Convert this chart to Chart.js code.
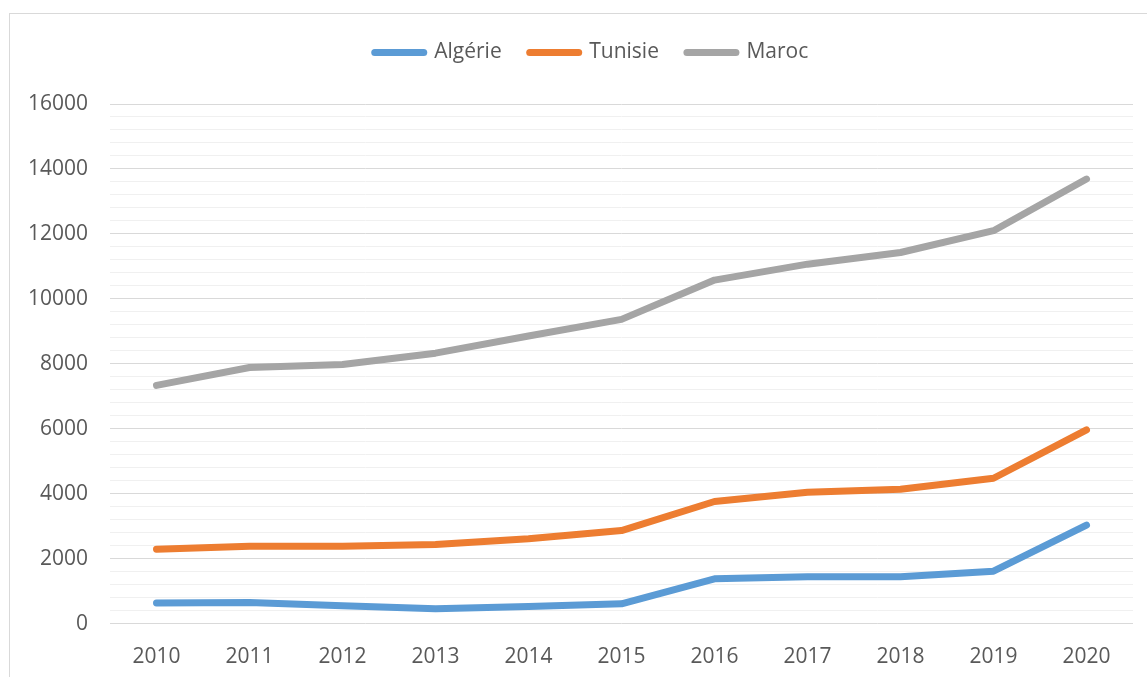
<!DOCTYPE html>
<html>
<head>
<meta charset="utf-8">
<script src="https://cdn.jsdelivr.net/npm/chart.js@4"></script>
<style>
    body { margin: 0; background: #fff; overflow: hidden; }
    #frame { position: absolute; left: 9px; top: 13px; width: 1200px; height: 700px; border: 1px solid #d9d9d9; }
    #wrap { position: absolute; left: 0; top: 0; width: 1147px; height: 677px; }
</style>
</head>
<body>
<div id="frame"></div>
<div id="wrap"><canvas id="chart"></canvas></div>
<script>
const years = ['2010', '2011', '2012', '2013', '2014', '2015', '2016', '2017', '2018', '2019', '2020'];
const algerie = [640, 655, 555, 465, 530, 615, 1385, 1450, 1450, 1620, 3040];
const tunisie = [2295, 2390, 2390, 2440, 2615, 2870, 3765, 4050, 4140, 4480, 5970];
const maroc = [7340, 7890, 7980, 8330, 8860, 9370, 10580, 11070, 11430, 12100, 13690];

const txt = '#595959';
const fnt = "'Open Sans', sans-serif";

// push the plot down below the legend, and nudge the legend like the excel layout
const legendGap = {
    id: 'legendGap',
    beforeInit(chart) {
        const fit = chart.legend.fit;
        chart.legend.fit = function () {
            fit.call(this);
            this.height += 34;
        };
    },
    afterLayout(chart) {
        const lg = chart.legend;
        lg.left += 25; lg.right += 25;
        lg.top += 3; lg.bottom += 3;
    }
};

function line(label, data, color) {
    return {
        label: label, data: data,
        borderColor: color, backgroundColor: color,
        borderWidth: 7, borderCapStyle: 'round', borderJoinStyle: 'round',
        pointRadius: 0, pointStyle: 'line', tension: 0, fill: false
    };
}

new Chart(document.getElementById('chart').getContext('2d'), {
    type: 'line',
    data: {
        labels: years,
        datasets: [
            line('Algérie', algerie, '#5b9bd5'),
            line('Tunisie', tunisie, '#ed7d31'),
            line('Maroc', maroc, '#a5a5a5')
        ]
    },
    plugins: [legendGap],
    options: {
        responsive: true,
        maintainAspectRatio: false,
        animation: false,
        layout: { padding: { left: 0, right: 14, top: 11, bottom: 7 } },
        plugins: {
            legend: {
                position: 'top',
                labels: {
                    usePointStyle: true, pointStyleWidth: 49, padding: 28,
                    color: txt, font: { family: fnt, size: 21 },
                    generateLabels: function (chart) {
                        return Chart.defaults.plugins.legend.labels.generateLabels(chart).map(function (l) {
                            l.lineCap = 'round';
                            return l;
                        });
                    }
                }
            },
            tooltip: { enabled: false }
        },
        scales: {
            x: {
                offset: true,
                grid: { display: false, tickLength: 21 },
                border: { display: false },
                ticks: { color: txt, font: { family: fnt, size: 21 }, padding: 0, maxRotation: 0 }
            },
            y: {
                min: 0, max: 16000,
                afterFit: function (s) { s.width = 110; },
                border: { display: false },
                grid: {
                    drawTicks: false,
                    color: function (c) { return c.tick.value % 2000 === 0 ? '#d9d9d9' : '#f0f0f0'; }
                },
                ticks: {
                    stepSize: 400, autoSkip: false, padding: 22,
                    color: txt, font: { family: fnt, size: 21 },
                    callback: function (v) { return v % 2000 === 0 ? v : ''; }
                }
            }
        }
    }
});
</script>
</body>
</html>
